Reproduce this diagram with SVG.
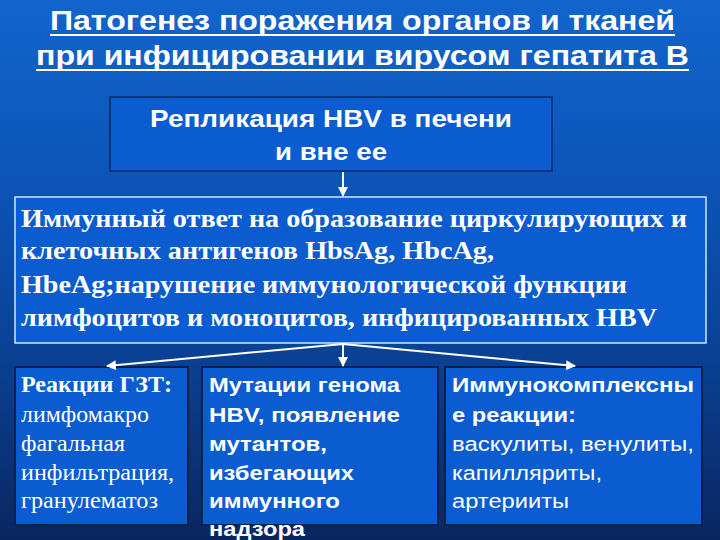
<svg xmlns="http://www.w3.org/2000/svg" width="720" height="540" viewBox="0 0 720 540">
<defs>
<linearGradient id="bg" x1="0" y1="0" x2="0" y2="1">
<stop offset="0" stop-color="#1264cc"/>
<stop offset="0.35" stop-color="#0c54b6"/>
<stop offset="0.7" stop-color="#0a3e8e"/>
<stop offset="1" stop-color="#0a2660"/>
</linearGradient>
<marker id="ah" viewBox="0 0 10 10" refX="9" refY="5" markerWidth="5" markerHeight="5" orient="auto-start-reverse">
<path d="M0,0 L10,5 L0,10 z" fill="#ffffff"/>
</marker>
<style>
.title{font-family:"Liberation Sans",Arial,sans-serif;font-size:27px;font-weight:bold;fill:#ffffff;}
.ul{stroke:#ffffff;stroke-width:2;}
.box{fill:#0a5cd0;}
.b1{stroke:#0a2a6a;stroke-width:1.5;}
.b2{stroke:#cfe6ff;stroke-width:1.5;}
.b3{stroke:#08204e;stroke-width:2;}
.arial{font-family:"Liberation Sans",Arial,sans-serif;fill:#ffffff;}
.times{font-family:"Liberation Serif","Times New Roman",serif;fill:#ffffff;}
.bold{font-weight:bold;}
.conn{stroke:#ffffff;stroke-width:2;fill:none;}
</style>
</defs>
<rect x="0" y="0" width="720" height="540" fill="url(#bg)"/>
<g id="title">
<text class="title" x="50" y="30" textLength="625" lengthAdjust="spacingAndGlyphs">Патогенез поражения органов и тканей</text>
<line class="ul" x1="50" y1="35" x2="675" y2="35"/>
<text class="title" x="36" y="65" textLength="653" lengthAdjust="spacingAndGlyphs">при инфицировании вирусом гепатита В</text>
<line class="ul" x1="36" y1="70" x2="689" y2="70"/>
</g>
<g id="replication">
<rect class="box b1" x="110" y="97" width="442" height="74"/>
<text class="arial bold" font-size="23" x="150" y="127" textLength="362" lengthAdjust="spacingAndGlyphs">Репликация HBV в печени</text>
<text class="arial bold" font-size="23" x="275" y="160" textLength="112" lengthAdjust="spacingAndGlyphs">и вне ее</text>
</g>
<g id="immune">
<rect class="box b2" x="15" y="197" width="691" height="146"/>
<text class="times bold" font-size="25" x="21" y="227" textLength="666" lengthAdjust="spacingAndGlyphs">Иммунный ответ на образование циркулирующих и</text>
<text class="times bold" font-size="25" x="21" y="259" textLength="473" lengthAdjust="spacingAndGlyphs">клеточных антигенов HbsAg, HbcAg,</text>
<text class="times bold" font-size="25" x="21" y="293" textLength="606" lengthAdjust="spacingAndGlyphs">HbeAg;нарушение иммунологической функции</text>
<text class="times bold" font-size="25" x="21" y="326" textLength="636" lengthAdjust="spacingAndGlyphs">лимфоцитов и моноцитов, инфицированных HBV</text>
</g>
<g id="gzt">
<rect class="box b3" x="15" y="367" width="173" height="158"/>
<text class="times bold" font-size="23" x="21" y="392" textLength="151" lengthAdjust="spacingAndGlyphs">Реакции ГЗТ:</text>
<text class="times" font-size="23" x="21" y="422" textLength="128" lengthAdjust="spacingAndGlyphs">лимфомакро</text>
<text class="times" font-size="23" x="21" y="451" textLength="104" lengthAdjust="spacingAndGlyphs">фагальная</text>
<text class="times" font-size="23" x="21" y="480" textLength="153" lengthAdjust="spacingAndGlyphs">инфильтрация,</text>
<text class="times" font-size="23" x="21" y="508" textLength="137" lengthAdjust="spacingAndGlyphs">гранулематоз</text>
</g>
<g id="mutations">
<rect class="box b3" x="202" y="367" width="236" height="158"/>
<text class="arial bold" font-size="20" x="209" y="392" textLength="191" lengthAdjust="spacingAndGlyphs">Мутации генома</text>
<text class="arial bold" font-size="20" x="209" y="422" textLength="191" lengthAdjust="spacingAndGlyphs">HBV, появление</text>
<text class="arial bold" font-size="20" x="209" y="451" textLength="118" lengthAdjust="spacingAndGlyphs">мутантов,</text>
<text class="arial bold" font-size="20" x="209" y="480" textLength="145" lengthAdjust="spacingAndGlyphs">избегающих</text>
<text class="arial bold" font-size="20" x="209" y="508" textLength="131" lengthAdjust="spacingAndGlyphs">иммунного</text>
<text class="arial bold" font-size="20" x="209" y="536" textLength="96" lengthAdjust="spacingAndGlyphs">надзора</text>
</g>
<g id="immunocomplex">
<rect class="box b3" x="445" y="367" width="257" height="158"/>
<text class="arial bold" font-size="20" x="452" y="392" textLength="242" lengthAdjust="spacingAndGlyphs">Иммунокомплексны</text>
<text class="arial bold" font-size="20" x="452" y="422" textLength="124" lengthAdjust="spacingAndGlyphs">е реакции:</text>
<text class="arial" font-size="20" x="452" y="451" textLength="242" lengthAdjust="spacingAndGlyphs">васкулиты, венулиты,</text>
<text class="arial" font-size="20" x="452" y="480" textLength="150" lengthAdjust="spacingAndGlyphs">капилляриты,</text>
<text class="arial" font-size="20" x="452" y="508" textLength="117" lengthAdjust="spacingAndGlyphs">артерииты</text>
</g>
<g id="connectors">
<line class="conn" x1="343" y1="172" x2="343" y2="196" marker-end="url(#ah)"/>
<line class="conn" x1="343" y1="344" x2="343" y2="366" marker-end="url(#ah)"/>
<line class="conn" x1="343" y1="344" x2="107" y2="366" marker-end="url(#ah)"/>
<line class="conn" x1="343" y1="344" x2="575" y2="366" marker-end="url(#ah)"/>
</g>
</svg>
